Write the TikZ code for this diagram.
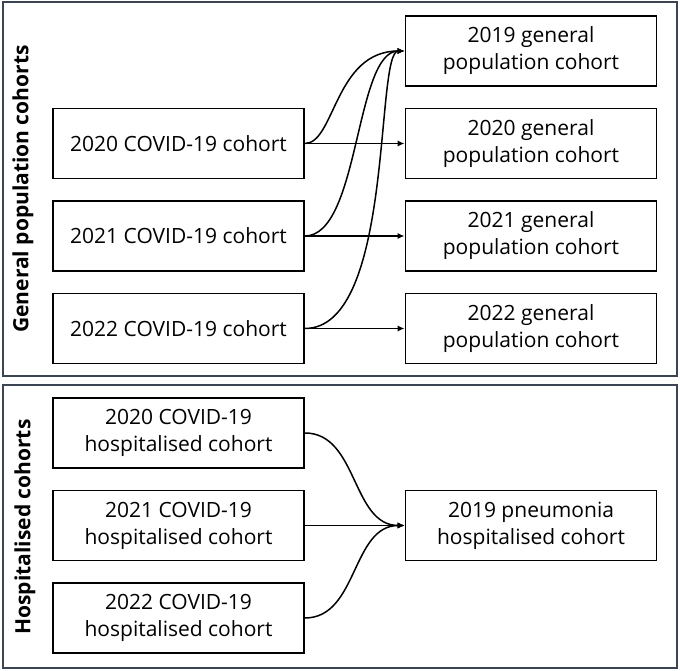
\documentclass[tikz,border=0pt]{standalone}
\usepackage{fontspec}
\setmainfont{Open Sans}
\usetikzlibrary{arrows.meta}
\definecolor{panelgray}{RGB}{58,68,82}

\begin{document}
\begin{tikzpicture}[x=1pt,y=1pt,
    cohort/.style={draw=black,line width=1.7pt,minimum width=251pt,minimum height=70pt,align=center,font=\fontsize{21}{27}\selectfont},
    panel/.style={draw=panelgray,line width=1.6pt},
    side/.style={rotate=90,font=\bfseries\fontsize{21}{25}\selectfont},
    link/.style={line width=1.5pt,-{Latex[length=7pt,width=6pt]}}]
    \useasboundingbox (0,0) rectangle (680,671);
    % panels
    \draw[panel] (3,295) rectangle (677,669);
    \draw[panel] (3,3) rectangle (677,286);
    \node[side] (gentitle) at (23,482) {General population cohorts};
    \node[side] (hosptitle) at (25,144) {Hospitalised cohorts};
    % general population cohorts
    \node[cohort] (c20) at (178.5,527.5) {2020 COVID-19 cohort};
    \node[cohort] (c21) at (178.5,435) {2021 COVID-19 cohort};
    \node[cohort] (c22) at (178.5,342.5) {2022 COVID-19 cohort};
    \node[cohort] (g19) at (531,620) {2019 general\\population cohort};
    \node[cohort] (g20) at (531,527.5) {2020 general\\population cohort};
    \node[cohort] (g21) at (531,435) {2021 general\\population cohort};
    \node[cohort] (g22) at (531,342.5) {2022 general\\population cohort};
    \draw[link] (c20) -- (g20);
    \draw[link] (c21) -- (g21);
    \draw[link] (c22) -- (g22);
    \draw[link] (c20.east) to[out=0,in=180,out distance=30pt,in distance=70pt] (g19.west);
    \draw[link] (c21.east) to[out=0,in=180,out distance=55pt,in distance=50pt] (g19.west);
    \draw[link] (c22.east) to[out=0,in=180,out distance=90pt,in distance=30pt] (g19.west);
    % hospitalised cohorts
    \node[cohort] (h20) at (178.5,238) {2020 COVID-19\\hospitalised cohort};
    \node[cohort] (h21) at (178.5,145.5) {2021 COVID-19\\hospitalised cohort};
    \node[cohort] (h22) at (178.5,53) {2022 COVID-19\\hospitalised cohort};
    \node[cohort] (p19) at (531,145.5) {2019 pneumonia\\hospitalised cohort};
    \draw[link] (h20.east) to[out=0,in=180] (p19.west);
    \draw[link] (h21) -- (p19);
    \draw[link] (h22.east) to[out=0,in=180] (p19.west);
\end{tikzpicture}
\end{document}
